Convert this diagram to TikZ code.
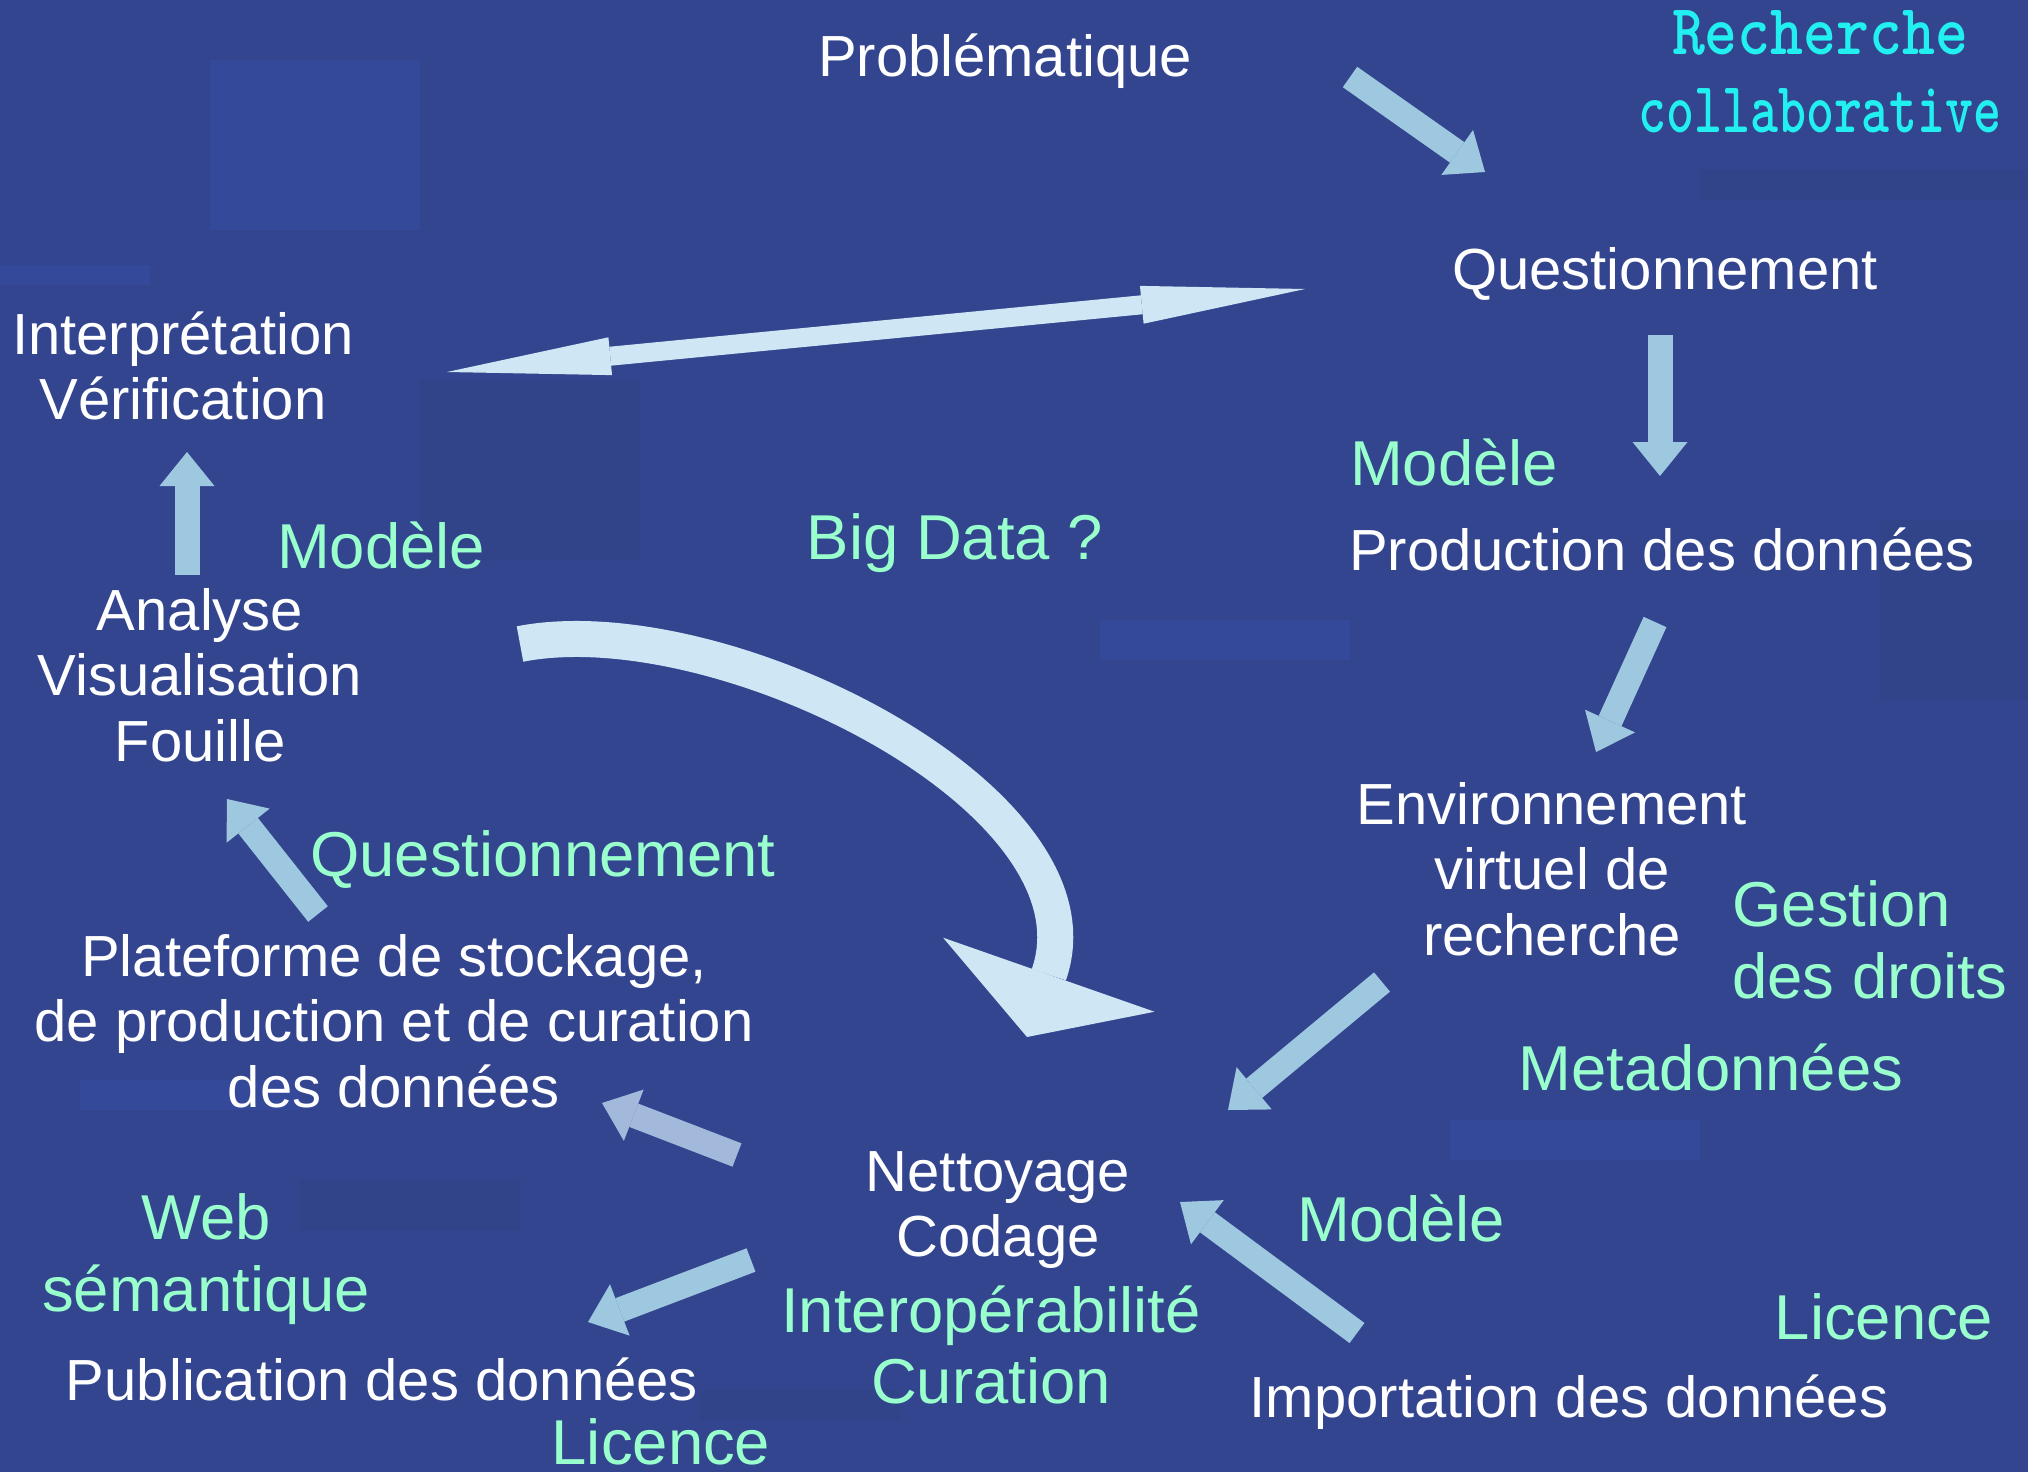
\documentclass[tikz,border=0pt]{standalone}
\usepackage{fontspec}
\setmainfont{Liberation Sans}
\usetikzlibrary{arrows.meta}
\definecolor{bg}{HTML}{33458F}
\definecolor{bgl}{HTML}{35499A}
\definecolor{bgd}{HTML}{324489}
\definecolor{mint}{HTML}{99FFCC}
\definecolor{aqua}{HTML}{22F0F0}
\definecolor{pale}{HTML}{CFE7F5}
\definecolor{sky}{HTML}{9DC8E0}
\definecolor{haze}{HTML}{A3B9DB}
\begin{document}
\begin{tikzpicture}[x=0.5pt,y=-0.5pt,
  w/.style={text=white,font=\fontsize{29}{32.7}\selectfont,align=center,inner sep=0pt},
  g/.style={text=mint,font=\fontsize{31.7}{35.8}\selectfont,align=center,inner sep=0pt},
  arr/.style={draw=sky,line width=12.5pt,-{Triangle[length=17pt,width=27.5pt,line width=0pt]}},
  wide/.style={draw=pale,line width=#1}]
% fond
\clip (0,0) rectangle (2028,1472);
\fill[bg] (0,0) rectangle (2028,1472);
\foreach \xa/\ya/\xb/\yb/\c in {0/265/150/285/bgl,210/60/420/230/bgl,420/380/640/560/bgd,
  1700/170/2028/200/bgd,80/1080/300/1110/bgl,1450/1120/1700/1160/bgl,700/1390/900/1420/bgd,
  1880/520/2028/700/bgd,1100/620/1350/660/bgl,300/1180/520/1230/bgd}
  \fill[\c] (\xa,\ya) rectangle (\xb,\yb);

% textes
\node[w] (prob) at (1005,61) {Problématique};
\node[text=aqua,font=\fontsize{36}{39}\selectfont\ttfamily\bfseries,align=center,inner sep=0pt] (collab) at (1820,72)
  {\scalebox{0.87}[1]{Recherche}\\\scalebox{0.74}[1]{collaborative}};
\node[w] (questA) at (1665,274) {Questionnement};
\node[w] (interp) at (183,366) {Interprétation\\Vérification};
\node[g] (modeleA) at (1454,462) {Modèle};
\node[w] (prod) at (1662,549) {Production des données};
\node[g] (bigdata) at (955,543) {Big Data ?};
\node[g] (modeleB) at (381,545) {Modèle};
\node[w] (analyse) at (200,675) {Analyse\\Visualisation\\Fouille};
\node[w] (env) at (1552,869) {Environnement\\virtuel de\\recherche};
\node[g,anchor=west,align=left] (droits) at (1732,940) {Gestion\\des droits};
\node[g] (questB) at (543,860) {Questionnement};
\node[w] (plat) at (394,1021) {Plateforme de stockage,\\de production et de curation\\des données};
\node[g] (meta) at (1711,1067) {Metadonnées};
\node[w] (nett) at (998,1210) {Nettoyage\\Codage};
\node[g] (modeleC) at (1401,1218) {Modèle};
\node[g] (web) at (206,1259) {Web\\sémantique};
\node[g] (interop) at (991,1345) {Interopérabilité\\Curation};
\node[g] (licA) at (1884,1317) {Licence};
\node[w] (pub) at (382,1379) {Publication des données};
\node[g] (licB) at (661,1442) {Licence};
\node[w] (imp) at (1569,1402) {Importation des données};

% bouts des fleches
\coordinate (t1) at (1350,77);  \coordinate (h1) at (1485,172);
\coordinate (t2) at (1660,335); \coordinate (h2) at (1660,476);
\coordinate (t3) at (1655,622); \coordinate (h3) at (1596,752);
\coordinate (t4) at (1382,982); \coordinate (h4) at (1228,1110);
\coordinate (t5) at (737,1155); \coordinate (h5) at (602,1103);
\coordinate (t6) at (751,1260); \coordinate (h6) at (588,1322);
\coordinate (t7) at (1357,1333);\coordinate (h7) at (1180,1202);
\coordinate (t8) at (187,575);  \coordinate (h8) at (187,452);
\coordinate (t9) at (318,914);  \coordinate (h9) at (227,799);
\coordinate (dl) at (447,372);  \coordinate (dr) at (1305,289);
\coordinate (ct) at (520,644);  \coordinate (ch) at (1027,1037);

\draw[arr] (t1)--(h1);
\draw[arr] (t2)--(h2);
\draw[arr] (t3)--(h3);
\draw[arr] (t4)--(h4);
\draw[arr,draw=haze] (t5)--(h5);
\draw[arr] (t6)--(h6);
\draw[arr] (t7)--(h7);
\draw[arr] (t8)--(h8);
\draw[arr] (t9)--(h9);
\draw[wide=9.5pt,{Triangle[length=82pt,width=19pt,line width=0pt]}-{Triangle[length=82pt,width=19pt,line width=0pt]}] (dl)--(dr);
\draw[wide=18pt,-{Triangle[length=33pt,width=112pt,line width=0pt]}] (ct) .. controls (720,605) and (1110,800) .. (ch);
\end{tikzpicture}
\end{document}
